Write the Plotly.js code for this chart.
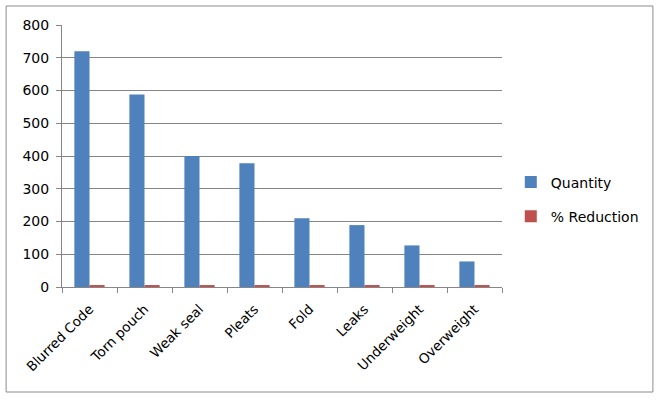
<!DOCTYPE html>
<html>
<head>
<meta charset="utf-8">
<script src="https://cdn.plot.ly/plotly-3.0.1.min.js"></script>
<style>html,body{margin:0;padding:0;background:#fff;}</style>
</head>
<body>
<div id="chart" style="width:661px;height:400px;"></div>
<script>
const categories = ["Blurred Code", "Torn pouch", "Weak seal", "Pleats", "Fold", "Leaks", "Underweight", "Overweight"];
const quantity = [720, 588, 400, 378, 210, 189, 127, 78];
const reduction = [6, 6, 6, 6, 6, 6, 6, 6];
const yTicks = [0, 100, 200, 300, 400, 500, 600, 700, 800];

const font = {family: "DejaVu Sans, Verdana, sans-serif", size: 14, color: "#000"};
const xfont = {family: "DejaVu Sans, Verdana, sans-serif", size: 13.5, color: "#000"};

const data = [
  {type: "bar", name: "Quantity", x: categories, y: quantity, marker: {color: "#4f81bd"}, legendgroup: "a"},
  {type: "bar", name: "% Reduction", x: categories, y: reduction, marker: {color: "#c0504d"}, legendgroup: "b"}
];

const layout = {
  width: 661, height: 400,
  margin: {l: 62, r: 159, t: 25, b: 113},
  paper_bgcolor: "#fff", plot_bgcolor: "#fff",
  font: font,
  barmode: "group",
  bargap: 0.45, bargroupgap: 0,
  showlegend: true,
  legend: {x: 1.02, y: 0.334, xanchor: "left", yanchor: "middle", font: font, tracegroupgap: 13, itemwidth: 30, bgcolor: "rgba(0,0,0,0)"},
  xaxis: {
    type: "category", tickangle: -45, tickson: "boundaries", ticks: "outside", ticklen: 5,
    tickcolor: "#868686", showline: true, linecolor: "#868686", showgrid: false,
    tickfont: xfont, ticklabelstandoff: 8, fixedrange: true
  },
  yaxis: {
    range: [0, 800], tickvals: yTicks, ticks: "outside", ticklen: 5, tickcolor: "#868686",
    showline: true, linecolor: "#868686", showgrid: true, gridcolor: "#868686", gridwidth: 1,
    zeroline: false, tickfont: font, ticklabelstandoff: 4, fixedrange: true
  },
  shapes: [{
    type: "rect", xref: "paper", yref: "paper",
    x0: -0.127, x1: 1.343, y0: -0.4008, y1: 1.0725,
    line: {color: "#8c8c8c", width: 1}, fillcolor: "rgba(0,0,0,0)"
  }]
};

Plotly.newPlot("chart", data, layout, {displayModeBar: false, staticPlot: true});
</script>
</body>
</html>
